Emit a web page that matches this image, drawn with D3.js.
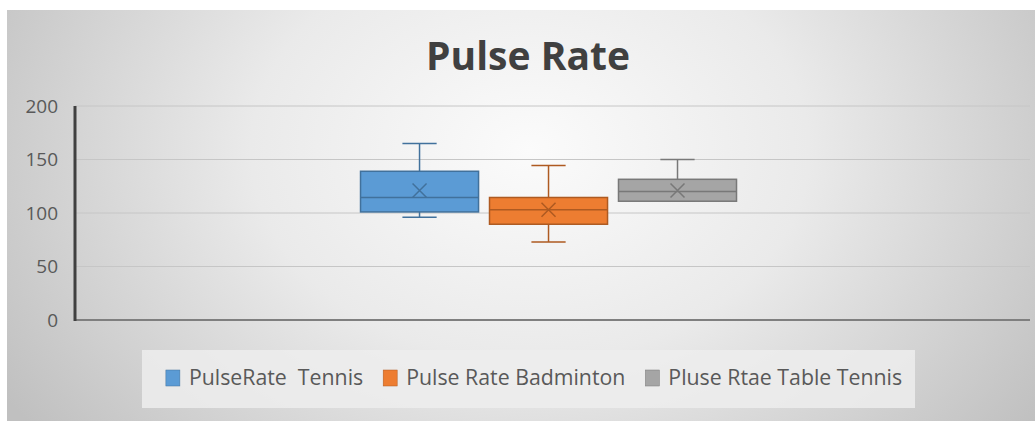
<!DOCTYPE html>
<html>
<head>
<meta charset="utf-8">
<script src="https://cdn.jsdelivr.net/npm/d3@7"></script>
<style>
  html, body { margin: 0; padding: 0; background: #ffffff; }
  svg { display: block; }
  text { font-family: "Open Sans", "Noto Sans", sans-serif; }
</style>
</head>
<body>
<svg id="chart" width="1035" height="421"></svg>
<script>
// Series names (as labelled in the legend)
const seriesNames = ["PulseRate  Tennis", "Pulse Rate Badminton", "Pluse Rtae Table Tennis"];
// Five-number summaries per series
const whiskerLow  = [96, 73, 111];
const quartile1   = [101, 89.5, 111];
const medians     = [114.5, 103, 120];
const quartile3   = [139, 114.5, 131.5];
const whiskerHigh = [165, 144.5, 150];
const means       = [121, 103, 121];
// Value axis ticks
const yTicks = [0, 50, 100, 150, 200];

const fills   = ["#5b9bd5", "#ed7d31", "#a5a5a5"];
const strokes = ["#41719c", "#ae5a21", "#787878"];

const W = 1035, H = 421;
const svg = d3.select("#chart");

// chart frame with a soft radial gradient
const defs = svg.append("defs");
const grad = defs.append("radialGradient")
  .attr("id", "bg").attr("gradientUnits", "userSpaceOnUse")
  .attr("cx", 530).attr("cy", 150).attr("r", 620)
  .attr("gradientTransform", "translate(530,150) scale(1,0.75) translate(-530,-150)");
grad.append("stop").attr("offset", "0").attr("stop-color", "#fbfbfb");
grad.append("stop").attr("offset", "0.45").attr("stop-color", "#eaeaea");
grad.append("stop").attr("offset", "1").attr("stop-color", "#c0c0c0");

svg.append("rect").attr("x", 7).attr("y", 10).attr("width", W - 7).attr("height", H - 10)
  .attr("fill", "url(#bg)");

// scales
const plot = { left: 75, right: 1030, top: 106, bottom: 320 };
const y = d3.scaleLinear().domain([0, 200]).range([plot.bottom, plot.top]);
const xCat = d3.scaleBand().domain(["Pulse"]).range([plot.left, plot.right])
  .paddingInner(0).paddingOuter(0.734).align(0.493);
const xSer = d3.scaleBand().domain(seriesNames).range([0, xCat.bandwidth()])
  .paddingInner(0.085).paddingOuter(0.0425);

// gridlines
svg.append("g")
  .selectAll("line").data(yTicks.filter(d => d > 0)).join("line")
  .attr("x1", plot.left).attr("x2", plot.right)
  .attr("y1", d => y(d)).attr("y2", d => y(d))
  .attr("stroke", "#c6c6c6").attr("stroke-width", 1);

// y axis labels
const yAxis = d3.axisLeft(y).tickValues(yTicks).tickSize(0).tickPadding(17);
const gy = svg.append("g").attr("transform", `translate(${plot.left},0)`).call(yAxis);
gy.select(".domain").remove();
gy.selectAll("text").attr("font-size", 19).attr("fill", "#595959");

// axis lines
svg.append("line").attr("x1", plot.left).attr("x2", plot.right)
  .attr("y1", y(0)).attr("y2", y(0)).attr("stroke", "#7f7f7f").attr("stroke-width", 2);
svg.append("line").attr("x1", plot.left).attr("x2", plot.left)
  .attr("y1", y(200)).attr("y2", y(0) + 1).attr("stroke", "#404040").attr("stroke-width", 3);

// box plots
const x0 = xCat("Pulse");
const boxes = svg.append("g").selectAll("g").data(seriesNames).join("g")
  .attr("transform", d => `translate(${x0 + xSer(d)},0)`);
const bw = xSer.bandwidth();
const cx = bw / 2;
const capW = bw * 0.29;

boxes.each(function(name, i) {
  const g = d3.select(this);
  // whiskers
  g.append("line").attr("x1", cx).attr("x2", cx)
    .attr("y1", y(whiskerHigh[i])).attr("y2", y(quartile3[i]))
    .attr("stroke", strokes[i]).attr("stroke-width", 1.5);
  g.append("line").attr("x1", cx).attr("x2", cx)
    .attr("y1", y(quartile1[i])).attr("y2", y(whiskerLow[i]))
    .attr("stroke", strokes[i]).attr("stroke-width", 1.5);
  g.append("line").attr("x1", cx - capW / 2).attr("x2", cx + capW / 2)
    .attr("y1", y(whiskerHigh[i])).attr("y2", y(whiskerHigh[i]))
    .attr("stroke", strokes[i]).attr("stroke-width", 1.5);
  g.append("line").attr("x1", cx - capW / 2).attr("x2", cx + capW / 2)
    .attr("y1", y(whiskerLow[i])).attr("y2", y(whiskerLow[i]))
    .attr("stroke", strokes[i]).attr("stroke-width", 1.5);
  // box
  g.append("rect").attr("x", 0).attr("width", bw)
    .attr("y", y(quartile3[i])).attr("height", y(quartile1[i]) - y(quartile3[i]))
    .attr("fill", fills[i]).attr("stroke", strokes[i]).attr("stroke-width", 1.5);
  // median
  g.append("line").attr("x1", 0).attr("x2", bw)
    .attr("y1", y(medians[i])).attr("y2", y(medians[i]))
    .attr("stroke", strokes[i]).attr("stroke-width", 1.5);
  // mean marker
  const my = y(means[i]), s = 7;
  g.append("path")
    .attr("d", `M${cx - s},${my - s}L${cx + s},${my + s}M${cx - s},${my + s}L${cx + s},${my - s}`)
    .attr("stroke", strokes[i]).attr("stroke-width", 1.5).attr("fill", "none");
});

// title
svg.append("text").attr("x", 528).attr("y", 70).attr("text-anchor", "middle")
  .attr("font-size", 39).attr("font-weight", 700).attr("fill", "#404040")
  .text("Pulse Rate");

// legend
svg.append("rect").attr("x", 142).attr("y", 350).attr("width", 773).attr("height", 58)
  .attr("fill", "#ededed").attr("opacity", 0.85);
const lg = svg.append("g");
let lx = 0;
seriesNames.forEach((name, i) => {
  const item = lg.append("g").attr("transform", `translate(${lx},0)`);
  item.append("rect").attr("x", 0).attr("y", 370).attr("width", 14).attr("height", 16)
    .attr("fill", fills[i]).attr("stroke", strokes[i]).attr("stroke-width", 0.5);
  const t = item.append("text").attr("x", 23).attr("y", 385)
    .attr("font-size", 21.3).attr("fill", "#595959")
    .style("white-space", "pre").text(name);
  lx += 23 + t.node().getComputedTextLength() + 20;
});
const lw = lx - 20;
lg.attr("transform", `translate(${534 - lw / 2},0)`);
</script>
</body>
</html>
